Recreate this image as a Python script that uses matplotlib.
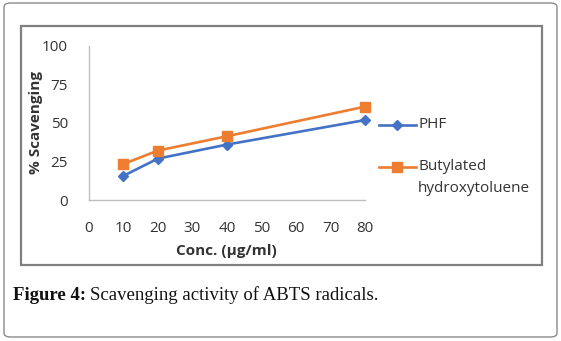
import matplotlib
matplotlib.use("Agg")
import matplotlib.pyplot as plt
from matplotlib.patches import FancyBboxPatch, Rectangle
from matplotlib.lines import Line2D

conc = [10, 20, 40, 80]
phf = [15.6, 26.8, 35.9, 51.8]
bht = [23.3, 32.0, 41.3, 60.5]
x_ticks = [0, 10, 20, 30, 40, 50, 60, 70, 80]
y_ticks = [0, 25, 50, 75, 100]
series_names = ["PHF", "Butylated", "hydroxytoluene"]

W, H = 561, 341
fig = plt.figure(figsize=(W / 100, H / 100), dpi=100)
fig.patch.set_facecolor("white")

# outer rounded frame
fig.patches.append(FancyBboxPatch((4 / W, 4 / H), 553 / W, 334 / H,
                                  boxstyle="round,pad=0,rounding_size=0.012",
                                  transform=fig.transFigure, fill=False,
                                  edgecolor="#8a8a8a", linewidth=1.0))
# inner chart frame
fig.patches.append(Rectangle((21 / W, 1 - 265 / H), 521 / W, 239 / H,
                             transform=fig.transFigure, fill=False,
                             edgecolor="#808080", linewidth=1.6))

BLUE = "#4472C4"
ORANGE = "#ED7D31"
ax = fig.add_axes([88.7 / W, 1 - 200 / H, (365 - 88.7) / W, (200 - 45.7) / H])
ax.set_xlim(0, 80)
ax.set_ylim(0, 100)
ax.plot(conc, phf, color=BLUE, lw=1.9, marker="D", ms=5, zorder=3, clip_on=False)
ax.plot(conc, bht, color=ORANGE, lw=1.9, marker="s", ms=7, zorder=3, clip_on=False)

font = "Open Sans"
tc = "#333333"
ax.set_xticks(x_ticks)
ax.set_yticks(y_ticks)
ax.set_xticklabels([str(v) for v in x_ticks], fontsize=11, family=font, color=tc)
ax.set_yticklabels([str(v) for v in y_ticks], fontsize=11, family=font, color=tc)
ax.tick_params(length=0)
ax.tick_params(axis="x", pad=15)
ax.tick_params(axis="y", pad=15)
for s in ["top", "right"]:
    ax.spines[s].set_visible(False)
for s in ["left", "bottom"]:
    ax.spines[s].set_color("#bfbfbf")
    ax.spines[s].set_linewidth(1)

ax.set_xlabel("Conc. (µg/ml)", fontsize=11, family=font, fontweight="bold", color=tc, labelpad=6)
ax.yaxis.set_label_coords((36 - 88.7) / (365 - 88.7), 0.5)
ax.set_ylabel("% Scavenging", fontsize=11, family=font, fontweight="bold", color=tc, va="center")


def fx(px):
    return px / W


def fy(py):
    return 1 - py / H


# legend (manual, figure pixel positions)
fig.add_artist(Line2D([fx(379), fx(416)], [fy(125), fy(125)], color=BLUE, lw=1.9,
                      transform=fig.transFigure))
fig.add_artist(Line2D([fx(397.5)], [fy(125)], color=BLUE, marker="D", ms=5,
                      transform=fig.transFigure))
fig.text(fx(418), fy(125), series_names[0], family=font, fontsize=11, color=tc, va="center")
fig.add_artist(Line2D([fx(379), fx(416)], [fy(167), fy(167)], color=ORANGE, lw=1.9,
                      transform=fig.transFigure))
fig.add_artist(Line2D([fx(397.5)], [fy(167)], color=ORANGE, marker="s", ms=7,
                      transform=fig.transFigure))
fig.text(fx(418), fy(167), series_names[1], family=font, fontsize=11, color=tc, va="center")
fig.text(fx(418), fy(189), series_names[2], family=font, fontsize=11, color=tc, va="center")

# caption
t1 = fig.text(13 / W, fy(300), "Figure 4:", family="Liberation Serif", fontweight="bold",
              fontsize=13.5, va="baseline", ha="left", color="#111111")
fig.canvas.draw()
bb = t1.get_window_extent(renderer=fig.canvas.get_renderer())
fig.text((bb.x1 + 4) / W, fy(300), "Scavenging activity of ABTS radicals.",
         family="Liberation Serif", fontsize=13.5, va="baseline", ha="left", color="#111111")

fig.savefig("out.png", dpi=100)
